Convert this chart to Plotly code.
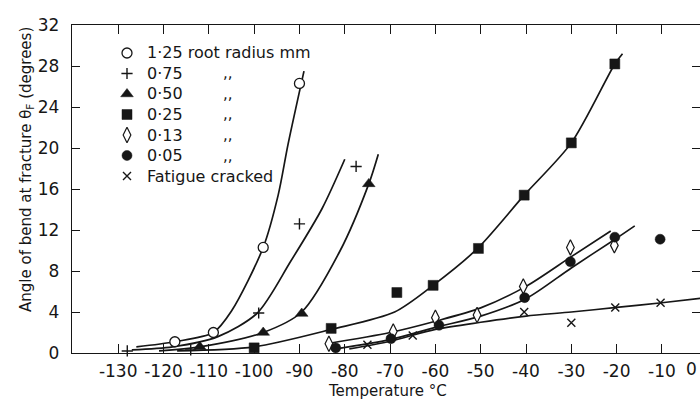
import plotly.graph_objects as go

# ---------------- data ----------------
# measured points: temperature (deg C) and angle of bend at fracture (deg)
r125_x = [-117.5, -109, -98, -90]
r125_y = [1.1, 2.0, 10.3, 26.3]
r075_x = [-128, -114, -99, -90, -77.5]
r075_y = [0.2, 0.3, 3.9, 12.6, 18.2]
r050_x = [-112, -98, -89.5, -74.7]
r050_y = [0.6, 2.0, 3.85, 16.5]
r025_x = [-100, -83, -68.5, -60.5, -50.5, -40.4, -30, -20.4]
r025_y = [0.5, 2.4, 5.9, 6.6, 10.2, 15.4, 20.5, 28.2]
r013_x = [-83.5, -69.3, -60, -50.8, -40.6, -30.2, -20.5]
r013_y = [0.9, 2.1, 3.45, 3.7, 6.5, 10.3, 10.5]
r005_x = [-82, -69.8, -59.2, -40.3, -30.2, -20.4, -10.4]
r005_y = [0.5, 1.4, 2.7, 5.4, 8.9, 11.3, 11.1]
fat_x = [-75, -65, -40.4, -30, -20.3, -10.3, 0]
fat_y = [0.8, 1.7, 4.0, 2.95, 4.45, 4.9, 5.7]

# hand-drawn fitted curves
c125_x = [-126, -117.5, -109, -105, -98, -94.7, -92.5, -89]
c125_y = [0.6, 1.1, 2.0, 4.1, 10.3, 15.4, 20.4, 27.5]
c075_x = [-127, -118, -108, -99.3, -92, -85, -80]
c075_y = [0.3, 0.6, 1.6, 3.9, 8.9, 14.1, 18.9]
c050_x = [-121, -112, -98, -89.5, -81, -74.7, -72.6]
c050_y = [0.2, 0.6, 2.0, 4.0, 10.0, 16.5, 19.4]
c025_x = [-117, -100, -83, -69, -60.5, -50.7, -40.4, -30, -20.4, -18.7]
c025_y = [0.2, 0.6, 2.3, 4.0, 6.6, 10.2, 15.4, 20.5, 28.2, 29.2]
c013_x = [-84, -70, -60, -50, -40, -30, -21.3]
c013_y = [0.9, 2.0, 3.1, 4.4, 6.5, 9.4, 11.9]
c005_x = [-82, -70, -60, -50, -40, -30, -20, -16]
c005_y = [0.4, 1.3, 2.5, 3.6, 5.3, 8.3, 11.2, 12.4]
cfat_x = [-79, -70, -60, -50, -40, -30, -20, -10, 0]
cfat_y = [0.4, 1.15, 2.3, 3.0, 3.6, 4.0, 4.45, 4.9, 5.4]

x_ticks = [-130, -120, -110, -100, -90, -80, -70, -60, -50, -40, -30, -20, -10]
x_ticktext = ["-130", "-120", "-110", "-100", "-90", "-80", "-70", "-60",
              "-50", "-40", "-30", "-20", "-10"]
y_ticks = [0, 4, 8, 12, 16, 20, 24, 28, 32]
y_ticktext = ["0", "4", "8", "12", "16", "20", "24", "28", "32"]

legend_labels = ["1·25 root radius mm", "0·75", "0·50", "0·25", "0·13", "0·05",
                 "Fatigue cracked"]
ditto = [False, True, True, True, True, True, False]

# ---------------- styling ----------------
INK = "#161616"
FONT = "DejaVu Sans"
W, H = 700, 400
L, R, T, B = 72, 0, 25, 47

def px(xp, yp):
    """pixel -> paper coords"""
    return (xp - L) / (W - L - R), (H - B - yp) / (H - T - B)

styles = [
    dict(symbol="circle", size=10, color="white", line=dict(color=INK, width=1.3)),
    dict(symbol="cross-thin", size=8, color=INK, line=dict(color=INK, width=1.4)),
    dict(symbol="triangle-up", size=11, color=INK, line=dict(color=INK, width=0.5)),
    dict(symbol="square", size=10, color=INK, line=dict(color=INK, width=0.5)),
    dict(symbol="diamond-tall", size=11, color="white", line=dict(color=INK, width=1.2)),
    dict(symbol="circle", size=10, color=INK, line=dict(color=INK, width=0.5)),
    dict(symbol="x-thin", size=8, color=INK, line=dict(color=INK, width=1.4)),
]

fig = go.Figure()

curves = [(c125_x, c125_y), (c075_x, c075_y), (c050_x, c050_y), (c025_x, c025_y),
          (c013_x, c013_y), (c005_x, c005_y), (cfat_x, cfat_y)]
for cx, cy in curves:
    fig.add_trace(go.Scatter(x=cx, y=cy, mode="lines",
                             line=dict(color=INK, width=1.7, shape="spline", smoothing=0.8),
                             hoverinfo="skip", showlegend=False, cliponaxis=False))

series = [(r125_x, r125_y), (r075_x, r075_y), (r050_x, r050_y), (r025_x, r025_y),
          (r013_x, r013_y), (r005_x, r005_y), (fat_x, fat_y)]
for (sx, sy), st, name in zip(series, styles, legend_labels):
    fig.add_trace(go.Scatter(x=sx, y=sy, mode="markers", marker=st, name=name,
                             showlegend=False, cliponaxis=False))

# legend drawn by hand (symbol column, labels, ditto marks)
row0, row_step = 53, 20.5
sym_x, text_x, ditto_x = 127, 145, 228
leg_x, leg_y = [], []
annotations = []
for i, lab in enumerate(legend_labels):
    ry = row0 + i * row_step
    leg_x.append(sym_x)
    leg_y.append(ry)
    ax, ay = px(text_x, ry)
    annotations.append(dict(x=ax, y=ay, xref="paper", yref="paper", text=lab,
                            showarrow=False, xanchor="left", yanchor="middle",
                            font=dict(family=FONT, size=16, color=INK)))
    if ditto[i]:
        dx, dy = px(ditto_x, ry)
        annotations.append(dict(x=dx, y=dy, xref="paper", yref="paper", text=",,",
                                showarrow=False, xanchor="center", yanchor="middle",
                                font=dict(family=FONT, size=15, color=INK)))
for i, st in enumerate(styles):
    fig.add_trace(go.Scatter(x=[leg_x[i]], y=[leg_y[i]], mode="markers", marker=st,
                             xaxis="x2", yaxis="y2", showlegend=False, hoverinfo="skip"))

# axis titles and the "0" tick label at the right edge
tx, ty = px(387, 391)
annotations.append(dict(x=tx, y=ty, xref="paper", yref="paper", text="Temperature °C",
                        showarrow=False, xanchor="center", yanchor="middle",
                        font=dict(family=FONT, size=15, color=INK)))
yx, yy = px(27, 170)
annotations.append(dict(x=yx, y=yy, xref="paper", yref="paper",
                        text="Angle of bend at fracture θ<sub>F</sub> (degrees)",
                        textangle=-90, showarrow=False, xanchor="center", yanchor="middle",
                        font=dict(family=FONT, size=15, color=INK)))
zx, zy = px(699, 369)
annotations.append(dict(x=zx, y=zy, xref="paper", yref="paper", text="0",
                        showarrow=False, xanchor="right", yanchor="middle",
                        font=dict(family=FONT, size=17, color=INK)))

axis_common = dict(showgrid=False, zeroline=False, showline=True, linecolor=INK,
                   linewidth=1.3, ticks="inside", tickcolor=INK, tickwidth=1.2,
                   mirror="ticks", tickfont=dict(family=FONT, size=17, color=INK))

fig.update_layout(
    width=W, height=H,
    margin=dict(l=L, r=R, t=T, b=B),
    paper_bgcolor="white", plot_bgcolor="white",
    showlegend=False,
    xaxis=dict(range=[-140.2, -1.6], tickvals=x_ticks, ticktext=x_ticktext,
               ticklen=9, ticklabelstandoff=2, **axis_common),
    yaxis=dict(range=[0, 32], tickvals=y_ticks, ticktext=y_ticktext,
               ticklen=8, ticklabelstandoff=8, **axis_common),
    xaxis2=dict(overlaying="x", range=[L, W - R], visible=False),
    yaxis2=dict(overlaying="y", range=[H - B, T], visible=False),
    annotations=annotations,
)

fig.write_html("out.html")
